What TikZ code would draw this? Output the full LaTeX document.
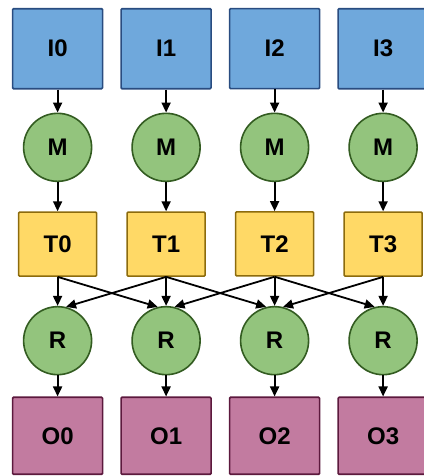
\documentclass[tikz,border=0pt]{standalone}
\usepackage{fontspec}
\setmainfont{Liberation Sans}
\usetikzlibrary{matrix, arrows.meta}
\definecolor{skyblue}{rgb}{0.435, 0.659, 0.863}
\definecolor{navy}{rgb}{0.16, 0.30, 0.50}
\definecolor{sage}{rgb}{0.576, 0.769, 0.490}
\definecolor{forest}{rgb}{0.20, 0.36, 0.13}
\definecolor{mustard}{rgb}{1.0, 0.851, 0.4}
\definecolor{ochre}{rgb}{0.55, 0.42, 0.05}
\definecolor{orchid}{rgb}{0.761, 0.482, 0.627}
\definecolor{plum}{rgb}{0.36, 0.10, 0.24}

\begin{document}
\begin{tikzpicture}[
  every node/.style={
    draw,
    inner sep=0mm,
    line width=1.6pt,
    rounded corners=1pt,
    font=\bfseries\fontsize{24}{28}\selectfont
  },
  inbox/.style={
    fill=skyblue,
    draw=navy,
    minimum width=90pt,
    minimum height=80pt
  },
  mapnode/.style={
    circle,
    fill=sage,
    draw=forest,
    minimum size=68pt
  },
  tbox/.style={
    fill=mustard,
    draw=ochre,
    minimum width=78pt,
    minimum height=64pt
  },
  outbox/.style={
    fill=orchid,
    draw=plum,
    minimum width=90pt,
    minimum height=77pt
  },
  flow arrow/.style={
    -{Triangle[length=10pt, width=9pt]},
    line width=1.8pt,
    draw=black
  }
]

\useasboundingbox (0,0) rectangle (423pt,-476pt);

\matrix[
	matrix of nodes,
	column sep=16.9pt,
	row sep=23pt,
	inner sep=0pt,
	rounded corners=0pt,
	draw=none,
	anchor=north west,
	row 1/.style={nodes={inbox}},
	row 2/.style={nodes={mapnode}},
	row 3/.style={nodes={tbox}},
	row 4/.style={nodes={mapnode}},
	row 5/.style={nodes={outbox}}
] (m) at (11pt,-7pt) {
    I0 & I1 & I2 & I3 \\
    M  & M  & M  & M  \\[6pt]
    T0 & T1 & T2 & T3 \\[6pt]
    R  & R  & R  & R  \\[-2pt]
    O0 & O1 & O2 & O3 \\
};

\draw[flow arrow] (m-1-1) -- (m-2-1);
\draw[flow arrow] (m-1-2) -- (m-2-2);
\draw[flow arrow] (m-1-3) -- (m-2-3);
\draw[flow arrow] (m-1-4) -- (m-2-4);

\draw[flow arrow] (m-2-1) -- (m-3-1);
\draw[flow arrow] (m-2-2) -- (m-3-2);
\draw[flow arrow] (m-2-3) -- (m-3-3);
\draw[flow arrow] (m-2-4) -- (m-3-4);

\draw[flow arrow] (m-3-1) -- (m-4-1);
\draw[flow arrow] (m-3-2) -- (m-4-2);
\draw[flow arrow] (m-3-3) -- (m-4-3);
\draw[flow arrow] (m-3-4) -- (m-4-4);

% shuffle to the neighbouring columns
\draw[flow arrow] (m-3-1.south) -- (m-4-2.104);
\draw[flow arrow] (m-3-2.south) -- (m-4-1.76);
\draw[flow arrow] (m-3-2.south) -- (m-4-3.104);
\draw[flow arrow] (m-3-3.south) -- (m-4-2.76);
\draw[flow arrow] (m-3-3.south) -- (m-4-4.104);
\draw[flow arrow] (m-3-4.south) -- (m-4-3.76);

\draw[flow arrow] (m-4-1) -- (m-5-1);
\draw[flow arrow] (m-4-2) -- (m-5-2);
\draw[flow arrow] (m-4-3) -- (m-5-3);
\draw[flow arrow] (m-4-4) -- (m-5-4);

\end{tikzpicture}
\end{document}
